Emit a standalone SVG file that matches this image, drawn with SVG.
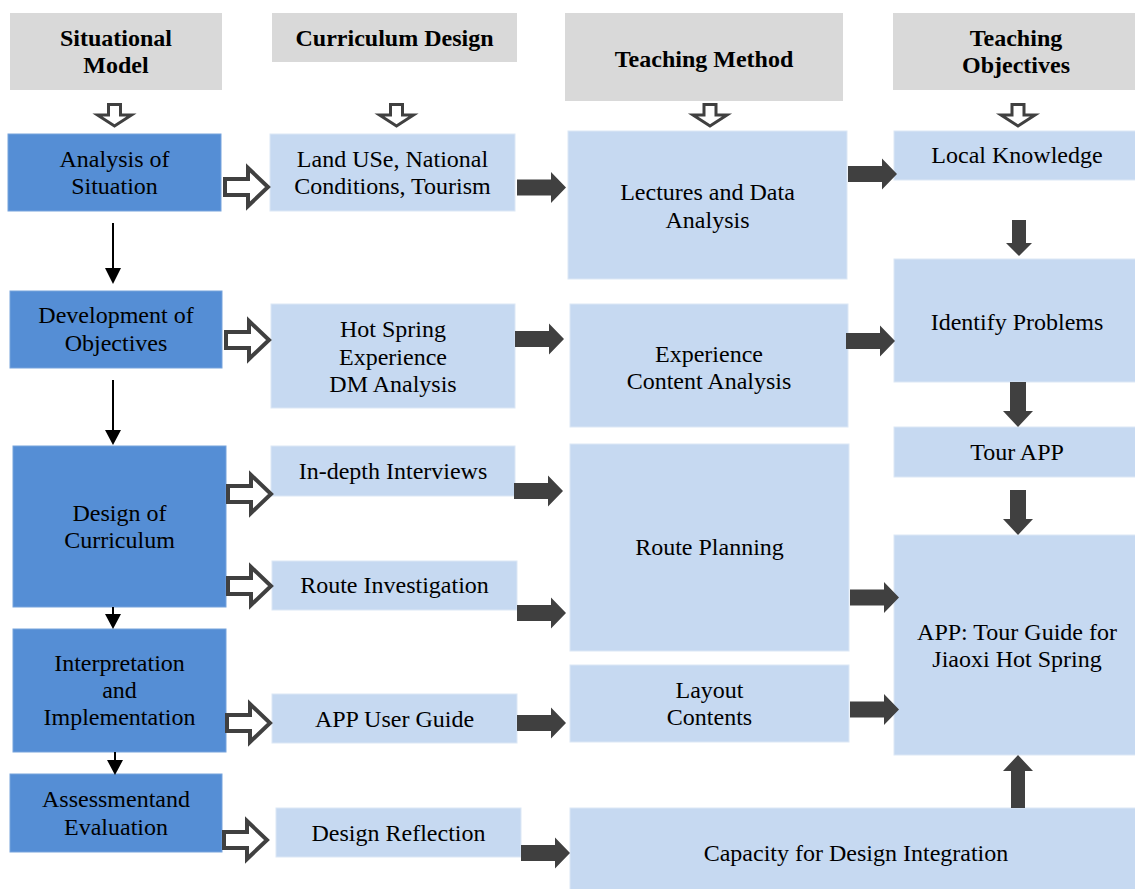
<svg xmlns="http://www.w3.org/2000/svg" width="1135" height="889" viewBox="0 0 1135 889">
<style>
.hdr{fill:#d9d9d9}
.dk{fill:#558ed5;stroke:#77a3dc;stroke-width:1}
.lt{fill:#c6d9f1;stroke:#dce7f5;stroke-width:1}
text{font-family:"Liberation Serif","Times New Roman",serif;font-size:24px;fill:#000;text-anchor:middle}
.b{font-weight:bold}
.ha{fill:#fff;stroke:#404040;stroke-width:4;stroke-linejoin:miter}
.hd{fill:#fff;stroke:#404040;stroke-width:3;stroke-linejoin:miter}
.sa{fill:#404040}
.thin{stroke:#000;stroke-width:2}
</style>
<defs>
<path id="hr" d="M2,-8 H25 V-19 L45,0 L25,19 V8 H2 Z"/>
<path id="hdn" d="M-6,1.5 H6 V12 H17 L0,23 L-17,12 H-6 Z"/>
<path id="sr" d="M0,-8 H34 V-15.5 L49,0 L34,15.5 V8 H0 Z"/>
<path id="sd" d="M-8,0 H8 V29 H15 L0,45 L-15,29 H-8 Z"/>
</defs>

<g id="h-situational"><rect class="hdr" x="10" y="13" width="212" height="77"/><text class="b" x="116" y="46">Situational</text><text class="b" x="116" y="73">Model</text></g>
<g id="h-curriculum"><rect class="hdr" x="272" y="13" width="245" height="49"/><text class="b" x="394.5" y="46">Curriculum Design</text></g>
<g id="h-method"><rect class="hdr" x="565" y="13" width="278" height="88"/><text class="b" x="704" y="67">Teaching Method</text></g>
<g id="h-objectives"><rect class="hdr" x="893" y="13" width="250" height="77"/><text class="b" x="1016" y="46">Teaching</text><text class="b" x="1016" y="73">Objectives</text></g>

<g id="n-analysis"><rect class="dk" x="8" y="134" width="213" height="77"/><text x="114.5" y="167">Analysis of</text><text x="114.5" y="194">Situation</text></g>
<g id="n-development"><rect class="dk" x="10" y="291" width="212" height="77"/><text x="116" y="323">Development of</text><text x="116" y="351">Objectives</text></g>
<g id="n-design"><rect class="dk" x="13" y="446" width="213" height="161"/><text x="119.5" y="521">Design of</text><text x="119.5" y="548">Curriculum</text></g>
<g id="n-interpretation"><rect class="dk" x="13" y="629" width="213" height="123"/><text x="119.5" y="671">Interpretation</text><text x="119.5" y="698">and</text><text x="119.5" y="725">Implementation</text></g>
<g id="n-assessment"><rect class="dk" x="10" y="774" width="212" height="78"/><text x="116" y="807">Assessmentand</text><text x="116" y="835">Evaluation</text></g>

<g id="n-landuse"><rect class="lt" x="270" y="134" width="245" height="77"/><text x="392.5" y="167">Land USe, National</text><text x="392.5" y="194">Conditions, Tourism</text></g>
<g id="n-hotspring"><rect class="lt" x="271" y="304" width="244" height="104"/><text x="393" y="337">Hot Spring</text><text x="393" y="365">Experience</text><text x="393" y="392">DM Analysis</text></g>
<g id="n-indepth"><rect class="lt" x="271" y="446" width="244" height="50"/><text x="393" y="479">In-depth Interviews</text></g>
<g id="n-routeinv"><rect class="lt" x="272" y="561" width="245" height="49"/><text x="394.5" y="593">Route Investigation</text></g>
<g id="n-appuser"><rect class="lt" x="272" y="694" width="245" height="49"/><text x="394.5" y="727">APP User Guide</text></g>
<g id="n-reflection"><rect class="lt" x="276" y="808" width="245" height="49"/><text x="398.5" y="841">Design Reflection</text></g>

<g id="n-lectures"><rect class="lt" x="568" y="131" width="279" height="148"/><text x="707.5" y="200">Lectures and Data</text><text x="707.5" y="228">Analysis</text></g>
<g id="n-experience"><rect class="lt" x="570" y="304" width="278" height="123"/><text x="709" y="362">Experience</text><text x="709" y="389">Content Analysis</text></g>
<g id="n-routeplan"><rect class="lt" x="570" y="444" width="279" height="207"/><text x="709.5" y="555">Route Planning</text></g>
<g id="n-layout"><rect class="lt" x="570" y="665" width="279" height="77"/><text x="709.5" y="698">Layout</text><text x="709.5" y="725">Contents</text></g>
<g id="n-capacity"><rect class="lt" x="570" y="808" width="575" height="90"/><text x="856" y="861">Capacity for Design Integration</text></g>

<g id="n-local"><rect class="lt" x="894" y="131" width="250" height="49"/><text x="1017" y="163">Local Knowledge</text></g>
<g id="n-identify"><rect class="lt" x="894" y="259" width="250" height="123"/><text x="1017" y="330">Identify Problems</text></g>
<g id="n-tourapp"><rect class="lt" x="894" y="427" width="250" height="50"/><text x="1017" y="460">Tour APP</text></g>
<g id="n-app"><rect class="lt" x="894" y="535" width="250" height="220"/><text x="1017" y="640">APP: Tour Guide for</text><text x="1017" y="667">Jiaoxi Hot Spring</text></g>

<g id="connectors">
<use href="#hdn" class="hd" transform="translate(114.5,103)"/>
<use href="#hdn" class="hd" transform="translate(396.5,103)"/>
<use href="#hdn" class="hd" transform="translate(710,103)"/>
<use href="#hdn" class="hd" transform="translate(1018,103)"/>

<use href="#hr" class="ha" transform="translate(223,187)"/>
<use href="#hr" class="ha" transform="translate(224,340)"/>
<use href="#hr" class="ha" transform="translate(226,494)"/>
<use href="#hr" class="ha" transform="translate(226,586)"/>
<use href="#hr" class="ha" transform="translate(225,723)"/>
<use href="#hr" class="ha" transform="translate(222,840)"/>

<use href="#sr" class="sa" transform="translate(517,187.5)"/>
<use href="#sr" class="sa" transform="translate(515,339)"/>
<use href="#sr" class="sa" transform="translate(514,491)"/>
<use href="#sr" class="sa" transform="translate(517,613)"/>
<use href="#sr" class="sa" transform="translate(517,723)"/>
<use href="#sr" class="sa" transform="translate(521,853)"/>

<use href="#sr" class="sa" transform="translate(848,174)"/>
<use href="#sr" class="sa" transform="translate(846,341)"/>
<use href="#sr" class="sa" transform="translate(850,597.5)"/>
<use href="#sr" class="sa" transform="translate(850,709.5)"/>

<path class="sa" d="M1012,220 H1026 V243 H1032 L1019,256 L1006,243 H1012 Z"/>
<use href="#sd" class="sa" transform="translate(1018,382)"/>
<use href="#sd" class="sa" transform="translate(1018,490)"/>
<path class="sa" d="M1011,808 V771 H1003 L1018,755 L1033,771 H1025 V808 Z"/>

<line class="thin" x1="113" y1="223" x2="113" y2="270"/><path d="M105,268 H121 L113,284 Z"/>
<line class="thin" x1="113" y1="380" x2="113" y2="432"/><path d="M105,430 H121 L113,445 Z"/>
<line class="thin" x1="113" y1="607" x2="113" y2="616"/><path d="M105,614 H121 L113,629 Z"/>
<line class="thin" x1="115" y1="752" x2="115" y2="762"/><path d="M107,760 H123 L115,775 Z"/>
</g>
</svg>
